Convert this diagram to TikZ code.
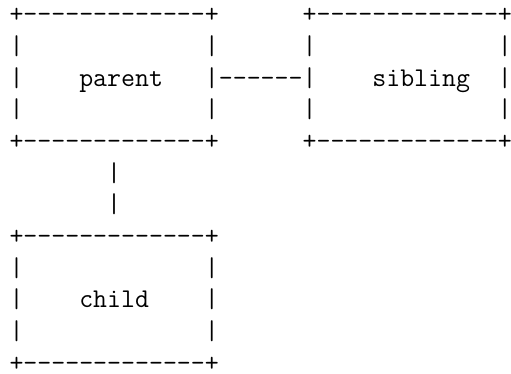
\documentclass[tikz,border=0pt]{standalone}
\usepackage{fontspec}
\setmonofont{Latin Modern Mono}
\begin{document}
\begin{tikzpicture}[x=1pt,y=-1pt,
  asciirow/.style={anchor=base west,inner sep=0pt,outer sep=0pt,text depth=0pt,
    font=\fontsize{27.1pt}{32pt}\selectfont\ttfamily}]
\useasboundingbox (0,0) rectangle (511,373);
\def\lx{9.5}
\def\dy{31.7}
\node[asciirow] (r0)  at (\lx,{22.6+0*\dy})  {+-------------+~~~~~~+-------------+};
\node[asciirow] (r1)  at (\lx,{22.6+1*\dy})  {|~~~~~~~~~~~~~|~~~~~~|~~~~~~~~~~~~~|};
\node[asciirow] (r2)  at (\lx,{22.6+2*\dy})  {|~~~~parent~~~|------|~~~~sibling~~|};
\node[asciirow] (r3)  at (\lx,{22.6+3*\dy})  {|~~~~~~~~~~~~~|~~~~~~|~~~~~~~~~~~~~|};
\node[asciirow] (r4)  at (\lx,{22.6+4*\dy})  {+-------------+~~~~~~+-------------+};
\node[asciirow] (r5)  at (\lx,{22.6+5*\dy})  {~~~~~~~|};
\node[asciirow] (r6)  at (\lx,{22.6+6*\dy})  {~~~~~~~|};
\node[asciirow] (r7)  at (\lx,{22.6+7*\dy})  {+-------------+};
\node[asciirow] (r8)  at (\lx,{22.6+8*\dy})  {|~~~~~~~~~~~~~|};
\node[asciirow] (r9)  at (\lx,{22.6+9*\dy})  {|~~~~child~~~~|};
\node[asciirow] (r10) at (\lx,{22.6+10*\dy}) {|~~~~~~~~~~~~~|};
\node[asciirow] (r11) at (\lx,{22.6+11*\dy}) {+-------------+};
\end{tikzpicture}
\end{document}
